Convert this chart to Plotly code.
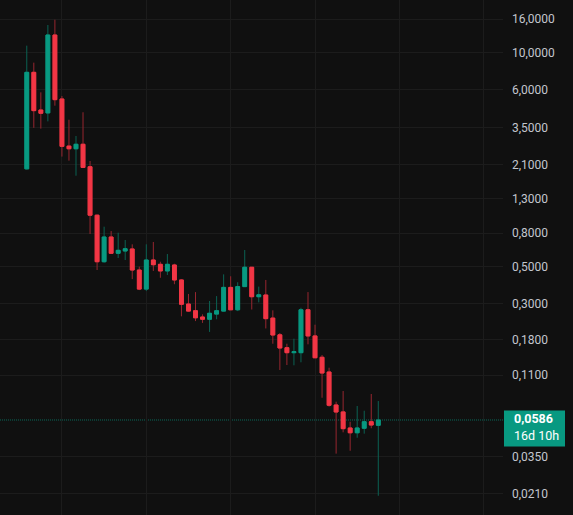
import math
import pandas as pd
import plotly.graph_objects as go

# ---- data (monthly candles) ----
months = pd.date_range("2020-08-01", periods=51, freq="MS").strftime("%Y-%m").tolist()

opens = [1.97, 7.61, 4.49, 4.31, 12.83, 5.24, 2.71, 2.61, 2.78, 2.03,
         1.03, 0.537, 0.759, 0.604, 0.624, 0.642, 0.478, 0.366, 0.550, 0.518,
         0.472, 0.513, 0.416, 0.297, 0.2705, 0.2476, 0.240, 0.258, 0.269, 0.375,
         0.274, 0.379, 0.497, 0.329, 0.337, 0.244, 0.193, 0.1612, 0.1503, 0.1503,
         0.274, 0.190, 0.141, 0.1147, 0.0723, 0.0656, 0.0524, 0.0490, 0.0522, 0.0572,
         0.0544]
highs = [11.05, 8.71, 5.75, 14.76, 15.89, 5.46, 3.92, 3.12, 4.35, 2.20,
         1.04, 0.877, 0.825, 0.806, 0.728, 0.685, 0.501, 0.685, 0.708, 0.537,
         0.598, 0.522, 0.421, 0.342, 0.351, 0.257, 0.310, 0.332, 0.450, 0.438,
         0.403, 0.633, 0.499, 0.379, 0.416, 0.272, 0.198, 0.1704, 0.1828, 0.282,
         0.351, 0.2224, 0.1455, 0.1218, 0.0757, 0.0879, 0.0572, 0.0713, 0.0667, 0.0843,
         0.0764]
lows = [1.95, 3.50, 3.46, 3.83, 4.77, 2.34, 2.21, 1.79, 2.00, 0.792,
        0.478, 0.530, 0.602, 0.566, 0.550, 0.421, 0.361, 0.356, 0.472, 0.429,
        0.446, 0.392, 0.250, 0.267, 0.234, 0.228, 0.201, 0.240, 0.268, 0.273,
        0.269, 0.378, 0.275, 0.304, 0.211, 0.1704, 0.118, 0.1265, 0.126, 0.1314,
        0.169, 0.1398, 0.080, 0.0706, 0.0366, 0.0493, 0.0381, 0.0457, 0.0484, 0.0522,
        0.0203]
closes = [7.61, 4.45, 4.29, 12.83, 5.19, 2.70, 2.61, 2.78, 2.01, 1.03,
          0.537, 0.759, 0.604, 0.630, 0.644, 0.478, 0.366, 0.550, 0.515, 0.472,
          0.518, 0.416, 0.296, 0.269, 0.245, 0.240, 0.261, 0.2705, 0.375, 0.274,
          0.379, 0.497, 0.329, 0.338, 0.242, 0.1925, 0.1605, 0.1503, 0.1524, 0.274,
          0.190, 0.140, 0.1131, 0.0720, 0.0655, 0.0519, 0.0490, 0.0524, 0.0572, 0.0546,
          0.0586]

tick_vals = [16, 10, 6, 3.5, 2.1, 1.3, 0.8, 0.5, 0.3, 0.18, 0.11, 0.035, 0.021]
tick_text = ["16,0000", "10,0000", "6,0000", "3,5000", "2,1000", "1,3000", "0,8000",
             "0,5000", "0,3000", "0,1800", "0,1100", "0,0350", "0,0210"]
price_label = "0,0586"
countdown_label = "16d 10h"

# ---- styling ----
BG = "#101010"
GRID = "#1c1c1c"
UP = "#089981"
DOWN = "#F23645"
UP_WICK = "#0b6253"
DOWN_WICK = "#97262f"
TEXT = "#c3c6ce"

W, H = 573, 515
PLOT_W = 503
Y_LOG_RANGE = [-1.8097, 1.3210]
X_RANGE = [-3.81, 67.74]

x = list(range(len(months)))
body_hi = [max(o, c) for o, c in zip(opens, closes)]
body_lo = [min(o, c) for o, c in zip(opens, closes)]

fig = go.Figure()
# wicks (darker)
fig.add_trace(go.Candlestick(
    x=x, open=opens, high=highs, low=lows, close=closes,
    increasing=dict(line=dict(color=UP_WICK, width=1), fillcolor=UP),
    decreasing=dict(line=dict(color=DOWN_WICK, width=1), fillcolor=DOWN),
    whiskerwidth=0, hoverinfo="skip", showlegend=False))
# bodies
fig.add_trace(go.Candlestick(
    x=x, open=opens, high=body_hi, low=body_lo, close=closes,
    increasing=dict(line=dict(color=UP, width=1), fillcolor=UP),
    decreasing=dict(line=dict(color=DOWN, width=1), fillcolor=DOWN),
    whiskerwidth=0, hoverinfo="skip", showlegend=False))

# January gridlines (yearly)
jan_ticks = [i for i in range(int(X_RANGE[0]), int(X_RANGE[1]) + 1) if (7 + i) % 12 == 0]

last = closes[-1]
frac = (math.log10(last) - Y_LOG_RANGE[0]) / (Y_LOG_RANGE[1] - Y_LOG_RANGE[0])

shapes = [
    dict(type="line", xref="paper", yref="paper", x0=0, x1=1, y0=frac, y1=frac,
         line=dict(color="rgba(8,153,129,0.65)", width=1, dash="1px,1px"), layer="below"),
    dict(type="rect", xref="paper", yref="paper",
         x0=1 + 1 / PLOT_W, x1=1 + 62 / PLOT_W,
         y0=frac - 26.5 / H, y1=frac + 9.5 / H,
         fillcolor=UP, line=dict(width=0), layer="above"),
]
annotations = [
    dict(xref="paper", yref="paper", x=1 + 9 / PLOT_W, y=frac, xanchor="left", yanchor="middle",
         yshift=1, text="<b>" + price_label + "</b>", showarrow=False,
         font=dict(family="Roboto", size=12.5, color="#ffffff")),
    dict(xref="paper", yref="paper", x=1 + 9 / PLOT_W, y=frac, xanchor="left", yanchor="middle",
         yshift=-15.5, text=countdown_label, showarrow=False,
         font=dict(family="Roboto", size=12.5, color="#ffffff")),
]

fig.update_layout(
    width=W, height=H,
    margin=dict(l=0, r=W - PLOT_W, t=0, b=0),
    paper_bgcolor=BG, plot_bgcolor=BG,
    boxgap=0.22,
    showlegend=False,
    hovermode=False,
    shapes=shapes,
    annotations=annotations,
    xaxis=dict(range=X_RANGE, tickvals=jan_ticks, showticklabels=False, showgrid=True,
               gridcolor=GRID, gridwidth=1, zeroline=False, showline=False, ticks="",
               rangeslider=dict(visible=False), automargin=False, fixedrange=True),
    yaxis=dict(type="log", range=Y_LOG_RANGE, side="right", tickvals=tick_vals,
               ticktext=tick_text, showgrid=True, gridcolor=GRID, gridwidth=1,
               zeroline=False, showline=False, ticks="", ticklabelstandoff=8,
               tickfont=dict(family="Roboto", size=12, color=TEXT),
               automargin=False, fixedrange=True),
)

fig.write_html("out.html")
